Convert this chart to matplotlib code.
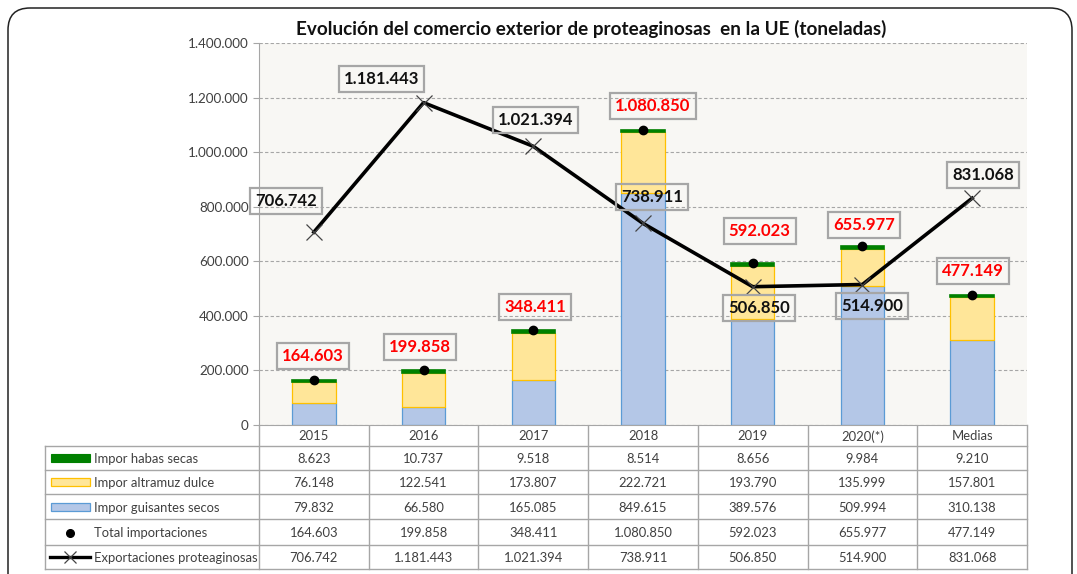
import numpy as np
import matplotlib
matplotlib.use('Agg')
from matplotlib import pyplot as plt
from matplotlib.patches import FancyBboxPatch, Rectangle
from matplotlib.lines import Line2D
from matplotlib.ticker import FuncFormatter

plt.rcParams['font.family'] = ['Lato', 'DejaVu Sans']

# data
categories = ['2015', '2016', '2017', '2018', '2019', '2020(*)', 'Medias']
habas = [8623, 10737, 9518, 8514, 8656, 9984, 9210]
altramuz = [76148, 122541, 173807, 222721, 193790, 135999, 157801]
guisantes = [79832, 66580, 165085, 849615, 389576, 509994, 310138]
total_imp = [164603, 199858, 348411, 1080850, 592023, 655977, 477149]
exportaciones = [706742, 1181443, 1021394, 738911, 506850, 514900, 831068]
row_labels = ['Impor habas secas', 'Impor altramuz dulce', 'Impor guisantes secos',
              'Total importaciones', 'Exportaciones proteaginosas']
title = 'Evolución del comercio exterior de proteaginosas  en la UE (toneladas)'

# label offsets in pixels (layout only)
tot_off = [(-1, 24), (-4, 23), (2, 23), (10, 24), (7, 32), (2, 21), (1, 24)]
exp_off = [(-28, 31), (-42, 24), (2, 26), (9, 26), (6, -21), (10, -21), (11, 23)]


def fmt(v):
    return '{:,.0f}'.format(v).replace(',', '.')


W, H = 1077, 574
fig = plt.figure(figsize=(W / 100, H / 100), dpi=100)

# overlay in pixel coords for frame + table
bg = fig.add_axes([0, 0, 1, 1], zorder=0)
bg.set_xlim(0, W)
bg.set_ylim(H, 0)
bg.axis('off')
bg.add_patch(FancyBboxPatch((8, 8), 1064, 600, boxstyle='round,pad=0,rounding_size=22',
                            fill=False, ec='#222222', lw=1.1))

# main chart
x0, x1, y0, y1 = 259, 1027, 425, 43
ax = fig.add_axes([x0 / W, 1 - y0 / H, (x1 - x0) / W, (y0 - y1) / H], zorder=2)
ax.set_facecolor('#F8F7F4')
x = np.arange(len(categories))
bw = 0.395
b1 = np.array(guisantes)
b2 = b1 + np.array(altramuz)
ax.bar(x, guisantes, bw, color='#B4C7E7', ec='#5B9BD5', lw=0.9, zorder=2)
ax.bar(x, altramuz, bw, bottom=b1, color='#FFE699', ec='#FFC000', lw=0.9, zorder=2)
ax.bar(x, habas, bw, bottom=b2, color='#008000', ec='#008000', lw=1.2, zorder=2)
ax.plot(x, total_imp, 'o', color='black', ms=6, zorder=4)
ax.plot(x, exportaciones, '-', color='black', lw=2.6, zorder=3)
ax.plot(x, exportaciones, 'x', color='#444444', ms=11, mew=0.9, zorder=3)

for i in range(len(categories)):
    ax.annotate(fmt(total_imp[i]), (x[i], total_imp[i]), xytext=tot_off[i],
                textcoords='offset pixels', ha='center', va='center',
                fontsize=12, fontweight='bold', color='#FF0000', zorder=5,
                bbox=dict(boxstyle='square,pad=0.3', fc='none', ec='#A6A6A6', lw=1.6))
    ax.annotate(fmt(exportaciones[i]), (x[i], exportaciones[i]), xytext=exp_off[i],
                textcoords='offset pixels', ha='center', va='center',
                fontsize=12, fontweight='bold', color='#111111', zorder=5,
                bbox=dict(boxstyle='square,pad=0.3', fc='none', ec='#A6A6A6', lw=1.6))

ax.set_xlim(-0.5, len(categories) - 0.5)
ax.set_ylim(0, 1400000)
ax.set_yticks(np.arange(0, 1400001, 200000))
ax.yaxis.set_major_formatter(FuncFormatter(lambda v, p: fmt(v)))
ax.set_xticks([])
ax.tick_params(axis='y', labelsize=9.7, labelcolor='#404040', color='#A6A6A6', length=4)
ax.grid(axis='y', color='#A6A6A6', ls=(0, (3, 2)), lw=0.8, zorder=0)
for s in ['top', 'right']:
    ax.spines[s].set_visible(False)
ax.spines['left'].set_color('#A6A6A6')
ax.spines['bottom'].set_color('#A6A6A6')
fig.text(591 / W, 1 - 29 / H, title, ha='center', va='center', fontsize=13.6,
         fontweight='bold', color='#111111')

# data table
lc = '#A6A6A6'
tl = 45
cw = (x1 - x0) / len(categories)
rows_y = [425, 446, 470, 494, 519, 545, 569]
for xv in [x0 + cw * k for k in range(len(categories) + 1)]:
    bg.plot([xv, xv], [rows_y[0], rows_y[-1]], color=lc, lw=1)
bg.plot([tl, tl], [rows_y[1], rows_y[-1]], color=lc, lw=1)
for yv in rows_y[1:]:
    bg.plot([tl, x1], [yv, yv], color=lc, lw=1)
tc = '#404040'
fs = 9.4
for k, c in enumerate(categories):
    bg.text(x0 + cw * (k + 0.5), (rows_y[0] + rows_y[1]) / 2 + 1, c, ha='center', va='center',
            fontsize=fs, color=tc)
series = [habas, altramuz, guisantes, total_imp, exportaciones]
for r, vals in enumerate(series):
    yc = (rows_y[r + 1] + rows_y[r + 2]) / 2 + 1
    bg.text(94, yc, row_labels[r], ha='left', va='center', fontsize=fs, color=tc)
    for k, v in enumerate(vals):
        bg.text(x0 + cw * (k + 0.5), yc, fmt(v), ha='center', va='center',
                fontsize=fs, color=tc)

# legend keys
ky = [(rows_y[r + 1] + rows_y[r + 2]) / 2 for r in range(5)]
bg.add_patch(Rectangle((51, ky[0] - 4), 39, 8, fc='#008000', ec='#008000', lw=0.8))
bg.add_patch(Rectangle((51, ky[1] - 4), 39, 8, fc='#FFE699', ec='#FFC000', lw=0.9))
bg.add_patch(Rectangle((51, ky[2] - 4), 39, 8, fc='#B4C7E7', ec='#5B9BD5', lw=0.9))
bg.plot([70], [ky[3] + 1], 'o', color='black', ms=5.5)
bg.add_line(Line2D([50, 90], [ky[4], ky[4]], color='black', lw=2.4))
bg.plot([70], [ky[4]], 'x', color='#444444', ms=9, mew=0.9)

fig.savefig('out.png', dpi=100)
